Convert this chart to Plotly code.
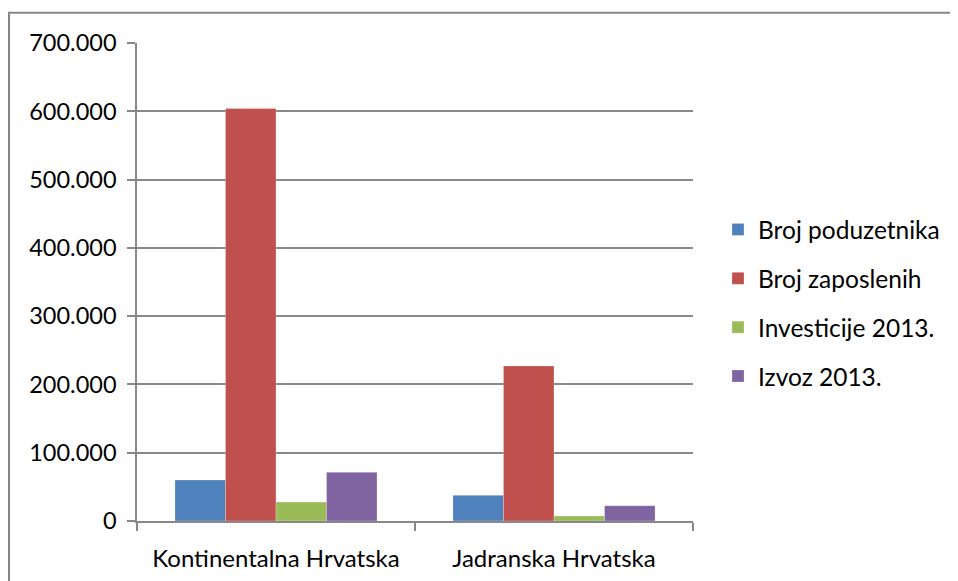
import plotly.graph_objects as go

categories = ["Kontinentalna Hrvatska", "Jadranska Hrvatska"]
series_names = ["Broj poduzetnika", "Broj zaposlenih", "Investicije 2013.", "Izvoz 2013."]
broj_poduzetnika = [60000, 37600]
broj_zaposlenih = [604000, 227000]
investicije_2013 = [27800, 7300]
izvoz_2013 = [71300, 22400]
colors = ["#4F81BD", "#C0504D", "#9BBB59", "#8064A2"]

values = [broj_poduzetnika, broj_zaposlenih, investicije_2013, izvoz_2013]

FONT = "Lato, Carlito, Calibri, sans-serif"
GRID = "#888888"

fig = go.Figure()
for name, vals, col in zip(series_names, values, colors):
    fig.add_trace(go.Bar(
        x=categories, y=vals, name=name, legendgroup=name,
        marker=dict(color=col, line=dict(color="rgba(255,255,255,0.5)", width=0.5)),
    ))

fig.update_layout(
    width=950, height=573,
    margin=dict(l=129, r=265, t=35, b=60, autoexpand=False),
    paper_bgcolor="white", plot_bgcolor="white",
    barmode="group", bargap=0.273, bargroupgap=0,
    separators=",.",
    font=dict(family=FONT, size=23, color="#000000"),
    showlegend=True,
    legend=dict(x=1.045, y=0.456, xanchor="left", yanchor="middle",
                traceorder="grouped", tracegroupgap=14,
                font=dict(family=FONT, size=24.5, color="#000000"),
                bgcolor="rgba(0,0,0,0)"),
    xaxis=dict(showline=True, linecolor=GRID, linewidth=1.5,
               ticks="outside", ticklen=8, tickcolor=GRID, tickwidth=1.5,
               tickson="boundaries", showgrid=False, ticklabelstandoff=15,
               tickfont=dict(family=FONT, size=24)),
    yaxis=dict(range=[0, 700000], dtick=100000, tickformat=",d",
               showline=True, linecolor=GRID, linewidth=1.5,
               ticks="outside", ticklen=8, tickcolor=GRID, tickwidth=1.5,
               showgrid=True, gridcolor=GRID, gridwidth=1.5,
               zeroline=False, ticklabelstandoff=6,
               tickfont=dict(family=FONT, size=23.5)),
    shapes=[dict(type="rect", xref="paper", yref="paper",
                 x0=-0.2302, x1=1.6, y0=-0.3, y1=1.0634,
                 line=dict(color="#868686", width=2), layer="below")],
)

fig.write_html("out.html")
